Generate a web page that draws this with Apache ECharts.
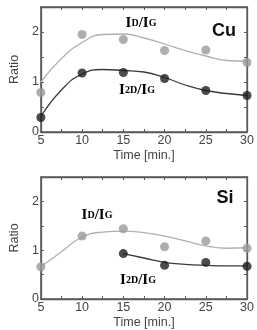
<!DOCTYPE html>
<html><head><meta charset="utf-8">
<script src="https://cdn.jsdelivr.net/npm/echarts@6/dist/echarts.min.js"></script>
<style>html,body{margin:0;padding:0;background:#fff}#c{width:257px;height:330px}</style>
</head><body><div id="c"></div>
<script>
// Cu panel: measured points
const cuTime = [5, 10, 15, 20, 25, 30];
const cuDG = [0.79, 1.95, 1.85, 1.63, 1.64, 1.39];
const cu2DG = [0.29, 1.18, 1.19, 1.07, 0.83, 0.73];
// Cu panel: fit curves
const fitTime = [5, 7.5, 10, 12.5, 15, 17.5, 20, 22.5, 25, 27.5, 30];
const cuDGfit = [1.0, 1.47, 1.79, 1.95, 1.96, 1.88, 1.76, 1.63, 1.52, 1.43, 1.42];
const cu2DGfit = [0.31, 0.84, 1.16, 1.25, 1.23, 1.2, 1.09, 0.94, 0.83, 0.77, 0.73];
// Si panel
const siTime = [5, 10, 15, 20, 25, 30];
const siDG = [0.66, 1.29, 1.44, 1.07, 1.19, 1.04];
const si2DGTime = [15, 20, 25, 30];
const si2DG = [0.93, 0.69, 0.75, 0.67];
const siDGfit = [0.66, 0.97, 1.27, 1.37, 1.39, 1.36, 1.29, 1.19, 1.09, 1.04, 1.05];
const si2DGfitTime = [15, 17.5, 20, 22.5, 25, 27.5, 30];
const si2DGfit = [0.93, 0.84, 0.75, 0.71, 0.69, 0.68, 0.68];
const xTicks = [5, 10, 15, 20, 25, 30];
const yTicks = [0, 1, 2];

const pair = (xs, ys) => xs.map((x, i) => [x, ys[i]]);
const frame = '#5a5a5a';
const lblColor = '#444';
function xAx(grid, pos, show) {
  return {
    type: 'value', gridIndex: grid, position: pos, min: xTicks[0], max: xTicks[xTicks.length - 1], interval: 2.5,
    name: show ? 'Time [min.]' : '', nameLocation: 'middle', nameGap: 17,
    nameTextStyle: { fontFamily: 'Liberation Sans', fontSize: 12.5, color: lblColor },
    axisLine: { show: true, onZero: false, lineStyle: { color: frame, width: 1.3 } },
    axisTick: { show: true, inside: true, length: 3, lineStyle: { color: frame, width: 1 } },
    axisLabel: { show: show, margin: 2, fontFamily: 'Liberation Sans', fontSize: 12.5, color: lblColor,
      formatter: v => xTicks.includes(v) ? String(v) : '' },
    splitLine: { show: false }
  };
}
function yAx(grid, pos, show) {
  return {
    type: 'value', gridIndex: grid, position: pos, min: 0, max: 2.5, interval: 0.5,
    name: show ? 'Ratio' : '', nameLocation: 'middle', nameGap: 14, nameRotate: 90,
    nameTextStyle: { fontFamily: 'Liberation Sans', fontSize: 12.5, color: lblColor },
    axisLine: { show: true, onZero: false, lineStyle: { color: frame, width: 1.3 } },
    axisTick: { show: true, inside: true, length: 3, lineStyle: { color: frame, width: 1 } },
    axisLabel: { show: show, margin: 2, fontFamily: 'Liberation Sans', fontSize: 12.5, color: lblColor,
      formatter: v => yTicks.includes(v) ? String(v) : '' },
    splitLine: { show: false }
  };
}
const grey = '#9a9a9a', greyLine = '#b0b0b0', dark = '#1e1e1e', darkLine = '#3a3a3a';
function pts(xi, yi, data, color) {
  return { type: 'scatter', xAxisIndex: xi, yAxisIndex: yi, data: data, symbolSize: 9,
    itemStyle: { color: color }, z: 3 };
}
function fit(xi, yi, data, color) {
  return { type: 'line', xAxisIndex: xi, yAxisIndex: yi, data: data, smooth: 0.5,
    showSymbol: false, lineStyle: { color: color, width: 1.3 }, z: 2 };
}
function dummy(xi, yi) {
  return { type: 'scatter', xAxisIndex: xi, yAxisIndex: yi, data: [], silent: true };
}
const rich = {
  a: { fontFamily: 'Liberation Serif', fontWeight: 'bold', fontSize: 15, color: '#2a2a2a' },
  b: { fontFamily: 'Liberation Serif', fontWeight: 'bold', fontSize: 10, color: '#2a2a2a' }
};
function lab(x, y, t) {
  return { type: 'text', x: x, y: y, style: { text: t, rich: rich, align: 'center', verticalAlign: 'middle' } };
}
function big(x, y, t) {
  return { type: 'text', x: x, y: y, style: { text: t, align: 'center', verticalAlign: 'middle',
    font: 'bold 18px "Liberation Sans"', fill: '#111' } };
}
const gridBox = { show: true, borderColor: frame, borderWidth: 1.3, backgroundColor: 'transparent' };
const chart = echarts.init(document.getElementById('c'), null, { renderer: 'canvas' });
chart.setOption({
  animation: false,
  grid: [
    Object.assign({ left: 28, right: 8, top: 7, height: 125 }, gridBox),
    Object.assign({ left: 28, right: 8, top: 177, height: 125 }, gridBox)
  ],
  xAxis: [xAx(0, 'bottom', true), xAx(0, 'top', false), xAx(1, 'bottom', true), xAx(1, 'top', false)],
  yAxis: [yAx(0, 'left', true), yAx(0, 'right', false), yAx(1, 'left', true), yAx(1, 'right', false)],
  series: [
    dummy(1, 1),
    dummy(3, 3),
    fit(0, 0, pair(fitTime, cuDGfit), greyLine),
    fit(0, 0, pair(fitTime, cu2DGfit), darkLine),
    pts(0, 0, pair(cuTime, cuDG), grey),
    pts(0, 0, pair(cuTime, cu2DG), dark),
    fit(2, 2, pair(fitTime, siDGfit), greyLine),
    fit(2, 2, pair(si2DGfitTime, si2DGfit), darkLine),
    pts(2, 2, pair(siTime, siDG), grey),
    pts(2, 2, pair(si2DGTime, si2DG), dark)
  ],
  graphic: [
    lab(141, 23, '{a|I}{b|D}{a|/I}{b|G}'),
    lab(137, 90, '{a|I}{b|2D}{a|/I}{b|G}'),
    big(224, 31, 'Cu'),
    lab(97, 215, '{a|I}{b|D}{a|/I}{b|G}'),
    lab(138, 280, '{a|I}{b|2D}{a|/I}{b|G}'),
    big(225, 198, 'Si')
  ]
});
</script></body></html>
